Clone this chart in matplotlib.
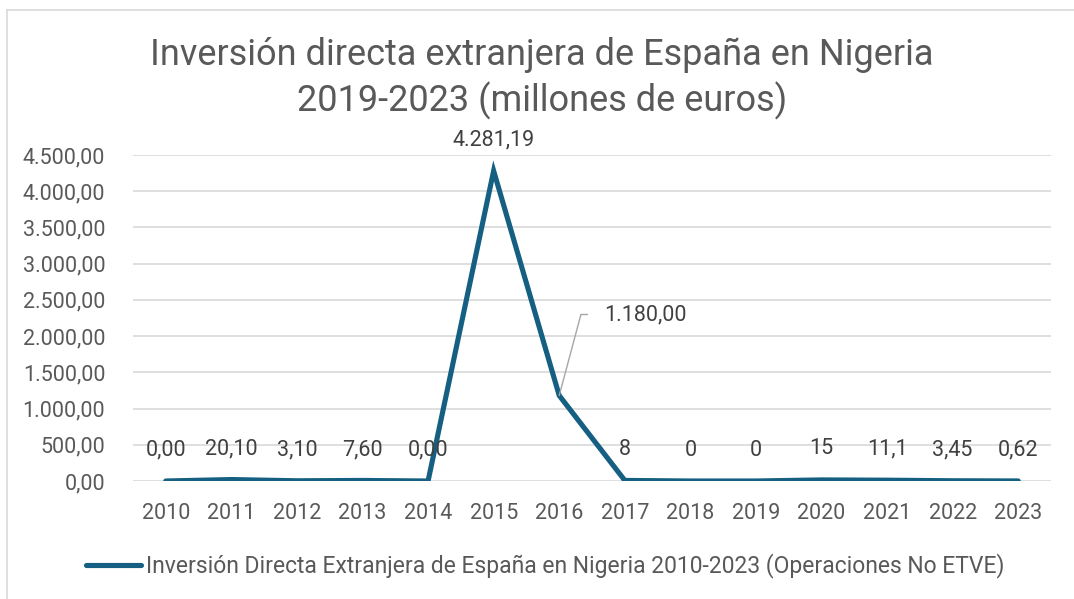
import matplotlib.pyplot as plt
from matplotlib.lines import Line2D

# Data
years = [2010, 2011, 2012, 2013, 2014, 2015, 2016, 2017, 2018, 2019, 2020, 2021, 2022, 2023]
values = [0.0, 20.10, 3.10, 7.60, 0.0, 4281.19, 1180.00, 8, 0, 0, 15, 11.1, 3.45, 0.62]
value_labels = ["0,00", "20,10", "3,10", "7,60", "0,00", "4.281,19", "1.180,00",
                "8", "0", "0", "15", "11,1", "3,45", "0,62"]
y_ticks = [0, 500, 1000, 1500, 2000, 2500, 3000, 3500, 4000, 4500]
y_tick_labels = ["0,00", "500,00", "1.000,00", "1.500,00", "2.000,00", "2.500,00",
                 "3.000,00", "3.500,00", "4.000,00", "4.500,00"]

title_1 = "Inversión directa extranjera de España en Nigeria"
title_2 = "2019-2023 (millones de euros)"
series_name = "Inversión Directa Extranjera de España en Nigeria 2010-2023 (Operaciones No ETVE)"

LINE_COLOR = "#156082"
TEXT_COLOR = "#595959"
LABEL_COLOR = "#404040"
GRID_COLOR = "#D9D9D9"

plt.rcParams.update({
    "font.family": ["Roboto", "DejaVu Sans"],
})

W, H = 1074, 599
fig = plt.figure(figsize=(W / 100, H / 100), dpi=100)
ax = fig.add_axes([133 / W, 1 - 481 / H, (1051 - 133) / W, (481 - 155) / H])

x = list(range(len(years)))
ax.plot(x, values, color=LINE_COLOR, linewidth=3.7, solid_capstyle="round",
        solid_joinstyle="miter", zorder=3, label=series_name)

ax.set_xlim(-0.5, len(years) - 0.5)
ax.set_ylim(0, 4500)
ax.set_yticks(y_ticks)
ax.set_yticklabels(y_tick_labels)
ax.set_xticks(x)
ax.set_xticklabels([str(y) for y in years])
ax.tick_params(axis="both", length=0, labelsize=15.5, colors=TEXT_COLOR)
ax.tick_params(axis="y", pad=20)
ax.tick_params(axis="x", pad=16)
for s in ax.spines.values():
    s.set_visible(False)
ax.grid(axis="y", color=GRID_COLOR, linewidth=1.2)
ax.set_axisbelow(True)

# data labels
for i, (v, lab) in enumerate(zip(values, value_labels)):
    if lab == "1.180,00":
        continue
    ax.annotate(lab, (i, v), xytext=(0, 31), textcoords="offset pixels",
                ha="center", va="center", fontsize=15.5, color=LABEL_COLOR, annotation_clip=False)

# callout for 2016
i16 = years.index(2016)
ax.annotate("1.180,00", (i16, values[i16]), xytext=(45, 81), textcoords="offset pixels",
            ha="left", va="center", fontsize=15.5, color=LABEL_COLOR,
            arrowprops=dict(arrowstyle="-", color="#A6A6A6", lw=1.0,
                            connectionstyle="angle,angleA=0,angleB=75,rad=0",
                            shrinkA=10, shrinkB=0))

# title
fig.text(542 / W, 1 - 55 / H, title_1, ha="center", va="center", fontsize=26, color=TEXT_COLOR)
fig.text(542 / W, 1 - 101 / H, title_2, ha="center", va="center", fontsize=26, color=TEXT_COLOR)

# legend
leg = fig.legend(loc="center", bbox_to_anchor=(545 / W, 1 - 566 / H), frameon=False,
                 fontsize=16.5, handlelength=2.4, handletextpad=0.22, labelcolor=TEXT_COLOR)

# chart border (cropped)
fig.add_artist(Line2D([7 / W, 1], [1 - 10 / H, 1 - 10 / H], color=GRID_COLOR, lw=1.2))
fig.add_artist(Line2D([7 / W, 7 / W], [0, 1 - 10 / H], color=GRID_COLOR, lw=1.2))

fig.savefig("out.png", dpi=100)
